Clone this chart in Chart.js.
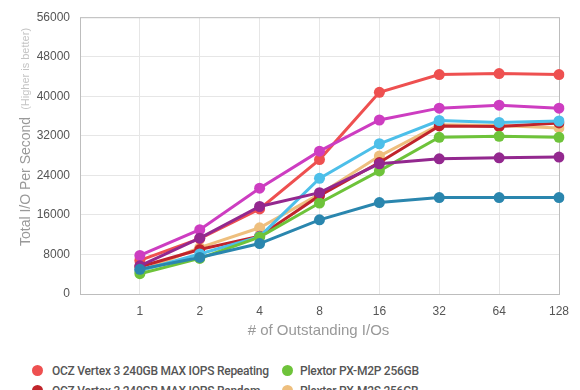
<!DOCTYPE html>
<html>
<head>
<meta charset="utf-8">
<script src="https://cdn.jsdelivr.net/npm/chart.js@4.4.0/dist/chart.umd.min.js"></script>
<style>
  html, body { margin: 0; padding: 0; background: #fff; overflow: hidden; width: 580px; height: 390px; }
  #wrap { position: relative; width: 580px; height: 390px; }
  #grafico { position: absolute; left: 0; top: 0; }
  #legenda { position: absolute; left: 0; top: 361px; width: 580px; font-family: Roboto, "Liberation Sans", Arial, sans-serif; font-size: 12px; font-weight: 500; color: #555; letter-spacing: -0.25px; }
  .item { position: absolute; white-space: nowrap; line-height: 20px; }
  .item span.dot { position: absolute; width: 11px; height: 11px; border-radius: 50%; left: -20px; top: 4px; }
</style>
</head>
<body>
<div id="wrap">
  <canvas id="grafico" width="580" height="345"></canvas>
  <div id="legenda"></div>
</div>
<script>
// Dados do gráfico
const filas = ['1', '2', '4', '8', '16', '32', '64', '128'];
const ticksY = [0, 8000, 16000, 24000, 32000, 40000, 48000, 56000];

const nomes = [
  'OCZ Vertex 3 240GB MAX IOPS Repeating',
  'OCZ Vertex 3 240GB MAX IOPS Random',
  'Samsung 830 256GB',
  'Crucial m4 256GB',
  'Plextor PX-M2P 256GB',
  'Plextor PX-M2S 256GB',
  'Intel SSD 520 240GB',
  'OCZ Vertex 4 256GB'
];
const cores = ['#ee5050', '#c0242b', '#cd3dc1', '#93288f', '#6ec33a', '#eebf7e', '#4dbfe9', '#2a86ae'];

const vertexRepeating = [6800, 11200, 17200, 27200, 40800, 44400, 44600, 44400];
const vertexRandom    = [5500, 9000, 11700, 19900, 26600, 34000, 33900, 34600];
const samsung830      = [7800, 13000, 21400, 28900, 35200, 37600, 38200, 37600];
const crucialM4       = [5700, 11300, 17700, 20500, 26350, 27350, 27550, 27700];
const plextorM2P      = [4100, 7200, 11500, 18400, 24900, 31700, 31900, 31700];
const plextorM2S      = [4600, 9400, 13400, 20200, 27900, 34250, 34100, 33600];
const intel520        = [4700, 8100, 11600, 23400, 30400, 35100, 34700, 35000];
const vertex4         = [5000, 7400, 10200, 15000, 18500, 19500, 19500, 19500];

const series = [vertexRepeating, vertexRandom, samsung830, crucialM4, plextorM2P, plextorM2S, intel520, vertex4];
// ordem de desenho (último fica por cima)
const ordemDesenho = [7, 3, 4, 6, 2, 0, 1, 5];

const fonte = '"Liberation Sans", Arial, sans-serif';

// ==================== Plugins ====================
const moldura = {
  id: 'moldura',
  beforeDatasetsDraw(chart) {
    const { ctx, chartArea: a } = chart;
    ctx.save();
    ctx.strokeStyle = '#bdbdbd';
    ctx.lineWidth = 1;
    ctx.strokeRect(a.left + 0.5, a.top + 0.5, a.right - a.left, a.bottom - a.top);
    ctx.restore();
  },
  afterDraw(chart) {
    const { ctx, chartArea: a } = chart;
    ctx.save();
    // título do eixo X
    ctx.fillStyle = '#999';
    ctx.font = '15px ' + fonte;
    ctx.textAlign = 'center';
    ctx.textBaseline = 'middle';
    ctx.fillText('# of Outstanding I/Os', (a.left + a.right) / 2 - 1, 331);

    // título do eixo Y (duas partes)
    ctx.translate(26, 137);
    ctx.rotate(-Math.PI / 2);
    const f1 = '14px ' + fonte;
    const f2 = '11px ' + fonte;
    const t1 = 'Total I/O Per Second';
    const t2 = '(Higher is better)';
    ctx.font = f1;
    const w1 = ctx.measureText(t1).width;
    ctx.font = f2;
    const w2 = ctx.measureText(t2).width;
    const gap = 7;
    let x0 = -(w1 + gap + w2) / 2;
    ctx.textAlign = 'left';
    ctx.font = f1;
    ctx.fillStyle = '#999';
    ctx.fillText(t1, x0, 0);
    ctx.font = f2;
    ctx.fillStyle = '#c4c4c4';
    ctx.fillText(t2, x0 + w1 + gap, 0);
    ctx.restore();
  }
};

// ==================== Gráfico ====================
const ctx = document.getElementById('grafico').getContext('2d');

const datasets = ordemDesenho.map((i) => ({
  label: nomes[i],
  data: [null].concat(series[i]),
  borderColor: cores[i],
  backgroundColor: cores[i],
  borderWidth: 3,
  pointRadius: 5.5,
  pointHoverRadius: 5.5,
  pointBorderWidth: 0,
  tension: 0,
  fill: false
}));

new Chart(ctx, {
  type: 'line',
  data: { labels: [''].concat(filas), datasets: datasets },
  plugins: [moldura],
  options: {
    responsive: false,
    animation: false,
    layout: { padding: { top: 15, right: 21, left: 0, bottom: 0 } },
    plugins: {
      legend: { display: false },
      tooltip: { enabled: false }
    },
    scales: {
      x: {
        offset: false,
        grid: { color: '#e6e6e6', drawTicks: false },
        border: { display: false },
        ticks: { color: '#555', padding: 10, maxRotation: 0, autoSkip: false, font: { size: 12, family: fonte } },
        afterFit(scale) { scale.height = 51; }
      },
      y: {
        min: ticksY[0],
        max: ticksY[ticksY.length - 1],
        afterBuildTicks(scale) { scale.ticks = ticksY.map(v => ({ value: v })); },
        grid: { color: '#e6e6e6', drawTicks: false },
        border: { display: false },
        ticks: { color: '#555', padding: 10, font: { size: 12, family: fonte }, callback: (v) => String(v) },
        afterFit(scale) { scale.width = 80; }
      }
    }
  }
});

// ==================== Legenda ====================
const legenda = document.getElementById('legenda');
const ordemLegenda = [0, 4, 1, 5, 2, 6, 3, 7];
ordemLegenda.forEach((i, k) => {
  const col = k % 2;
  const row = Math.floor(k / 2);
  const div = document.createElement('div');
  div.className = 'item';
  div.style.left = (col === 0 ? 52 : 300) + 'px';
  div.style.top = (row * 20) + 'px';
  div.innerHTML = '<span class="dot" style="background:' + cores[i] + (col === 1 ? ';left:-18px' : '') + '"></span>' + nomes[i];
  legenda.appendChild(div);
});
</script>
</body>
</html>
